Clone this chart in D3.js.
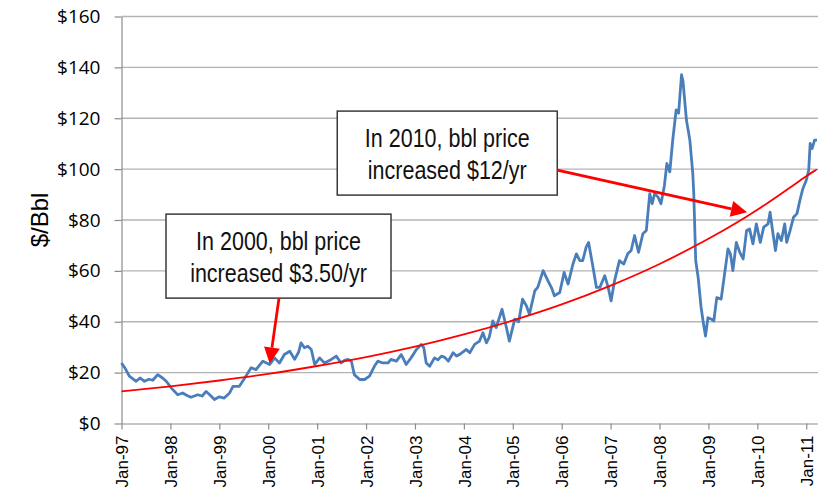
<!DOCTYPE html>
<html lang="en">
<head>
<meta charset="UTF-8">
<title>Crude oil price vs exponential trend</title>
<script src="https://cdn.jsdelivr.net/npm/d3@7"></script>
<style>
  body { margin: 0; background: #fff; }
  .axis text { font-family: "Liberation Sans", Arial, sans-serif; fill: #000; }
  .yaxis text { font-family: "Open Sans", "Liberation Sans", sans-serif; fill: #000; }
  .note text { font-family: "Liberation Sans Narrow", "Liberation Sans", Arial, sans-serif; font-size: 25px; fill: #111; }
</style>
</head>
<body>
<div id="chart"></div>
<script>
// weekly-ish price readings (decimal year, $/bbl)
const years = [
  1997.00, 1997.08, 1997.16, 1997.30, 1997.38, 1997.47, 1997.56, 1997.64, 1997.74, 1997.84, 1997.92,
  1998.02, 1998.15, 1998.25, 1998.34, 1998.42, 1998.56, 1998.65, 1998.73, 1998.82, 1998.90,
  1999.00, 1999.10, 1999.21, 1999.28, 1999.41, 1999.52, 1999.65, 1999.75, 1999.89,
  2000.03, 2000.13, 2000.23, 2000.33, 2000.44, 2000.54, 2000.62, 2000.67, 2000.74, 2000.81, 2000.88, 2000.95,
  2001.05, 2001.15, 2001.22, 2001.29, 2001.39, 2001.49, 2001.56, 2001.63, 2001.70, 2001.76, 2001.87, 2001.97,
  2002.07, 2002.17, 2002.24, 2002.34, 2002.45, 2002.51, 2002.62, 2002.72, 2002.82, 2002.92,
  2003.03, 2003.13, 2003.18, 2003.23, 2003.30, 2003.40, 2003.47, 2003.54, 2003.61, 2003.68, 2003.78, 2003.85, 2003.91,
  2004.05, 2004.12, 2004.22, 2004.32, 2004.39, 2004.46, 2004.52, 2004.59, 2004.66, 2004.78, 2004.87, 2004.93,
  2005.04, 2005.12, 2005.20, 2005.28, 2005.34, 2005.45, 2005.51, 2005.62, 2005.72, 2005.80, 2005.85, 2005.96,
  2006.05, 2006.13, 2006.23, 2006.30, 2006.37, 2006.43, 2006.50, 2006.55, 2006.64, 2006.71, 2006.78, 2006.88, 2006.95,
  2007.01, 2007.08, 2007.18, 2007.27, 2007.35, 2007.42, 2007.49, 2007.57, 2007.66, 2007.73, 2007.80, 2007.85, 2007.90, 2007.97,
  2008.03, 2008.10, 2008.15, 2008.21, 2008.27, 2008.34, 2008.39, 2008.45, 2008.48, 2008.55, 2008.62, 2008.68, 2008.70,
  2008.74, 2008.79, 2008.85, 2008.90, 2008.94, 2008.99,
  2009.06, 2009.11, 2009.17, 2009.26, 2009.33, 2009.40, 2009.45, 2009.50, 2009.57, 2009.64, 2009.71, 2009.78, 2009.84, 2009.91, 2009.98,
  2010.06, 2010.13, 2010.22, 2010.26, 2010.32, 2010.37, 2010.42, 2010.49, 2010.56, 2010.60, 2010.67, 2010.74, 2010.81, 2010.87, 2010.93,
  2011.00, 2011.05, 2011.08, 2011.12, 2011.17, 2011.22
];
const prices = [
  23.8, 21.5, 18.6, 16.6, 17.9, 16.6, 17.4, 17.0, 19.2, 17.9, 16.5,
  13.9, 11.3, 12.0, 11.0, 10.3, 11.3, 10.8, 12.6, 11.0, 9.4,
  10.5, 10.0, 12.0, 14.6, 14.6, 17.9, 21.9, 21.2, 24.5,
  23.2, 25.8, 23.8, 27.1, 28.4, 25.2, 28.0, 31.7, 29.8, 30.4, 29.1, 23.2,
  25.8, 23.8, 24.5, 25.2, 26.5, 23.8, 24.8, 25.2, 24.5, 19.2, 17.3, 17.3,
  18.6, 22.5, 24.5, 23.8, 23.8, 25.2, 24.5, 27.1, 23.2, 25.8,
  29.1, 31.1, 29.8, 23.8, 22.5, 25.8, 25.0, 26.5, 26.0, 24.5, 27.8, 26.5, 27.1,
  29.1, 27.8, 31.1, 32.4, 35.7, 31.7, 34.0, 40.3, 37.7, 44.9, 37.7, 32.4,
  41.0, 40.0, 48.9, 46.2, 42.9, 52.2, 53.5, 60.1, 56.1, 53.0, 50.2, 51.5,
  59.4, 54.8, 62.7, 66.7, 64.0, 64.0, 69.3, 71.2, 61.4, 53.5, 53.5, 58.1, 53.5,
  48.2, 56.1, 64.0, 62.7, 66.7, 68.0, 73.9, 67.3, 74.6, 75.9, 90.4, 86.4, 90.4, 89.0,
  86.4, 93.6, 102.2, 98.9, 111.4, 123.3, 122.0, 137.1, 134.5, 119.3, 111.4, 98.3, 90.4,
  64.0, 57.4, 45.6, 39.0, 34.4, 41.6,
  41.0, 40.3, 49.5, 48.9, 58.8, 68.6, 66.7, 60.1, 71.2, 67.3, 64.7, 75.9, 76.5, 70.6, 78.5,
  71.2, 77.2, 78.5, 83.1, 74.6, 68.0, 74.6, 71.9, 78.5, 71.2, 75.9, 81.1, 82.5, 87.7, 92.3,
  95.6, 99.6, 110.1, 108.1, 111.4, 111.4
];

// exponential trend line, read at each January
const trendYears = [1997, 1998, 1999, 2000, 2001, 2002, 2003, 2004, 2005, 2006, 2007, 2008, 2009, 2010, 2011, 2011.22];
const trendPrices = [12.6, 14.6, 16.9, 19.5, 22.6, 26.1, 30.2, 35.0, 40.5, 46.8, 54.2, 62.7, 72.6, 84.0, 97.2, 99.6];

const yTicks = [0, 20, 40, 60, 80, 100, 120, 140, 160];
const xTicks = [1997, 1998, 1999, 2000, 2001, 2002, 2003, 2004, 2005, 2006, 2007, 2008, 2009, 2010, 2011];
const xTickLabels = ["Jan-97", "Jan-98", "Jan-99", "Jan-00", "Jan-01", "Jan-02", "Jan-03", "Jan-04",
  "Jan-05", "Jan-06", "Jan-07", "Jan-08", "Jan-09", "Jan-10", "Jan-11"];

const notes = [
  { lines: ["In 2000, bbl price", "increased $3.50/yr"], cx: 2000.21, cy: 65.8, w: 225, h: 84, fromRight: false, tipX: 2000.03, tipY: 23.6 },
  { lines: ["In 2010, bbl price", "increased $12/yr"], cx: 2003.66, cy: 106.3, w: 220, h: 84, fromRight: true, tipX: 2009.79, tipY: 83.0 }
];

const W = 818, H = 495;
const margin = {top: 16.5, right: 0, bottom: 71.5, left: 121.5};

const svg = d3.select("#chart").append("svg")
  .attr("width", W)
  .attr("height", H);

const x = d3.scaleLinear().domain([1997, 2011.24]).range([margin.left, W - margin.right]);
const y = d3.scaleLinear().domain([0, 160]).range([H - margin.bottom, margin.top]);

// gridlines
svg.append("g")
  .selectAll("line")
  .data(yTicks.filter(d => d > 0))
  .enter().append("line")
  .attr("x1", margin.left).attr("x2", W)
  .attr("y1", d => y(d)).attr("y2", d => y(d))
  .attr("stroke", "#b4b4b4")
  .attr("stroke-width", 1.3);

// y axis
const yAxis = svg.append("g")
  .attr("class", "yaxis")
  .attr("transform", `translate(${margin.left},0)`)
  .call(d3.axisLeft(y).tickValues(yTicks).tickFormat(d => "$" + d).tickSize(7).tickPadding(14).tickSizeOuter(0));
yAxis.selectAll("line, path").attr("stroke", "#8c8c8c").attr("stroke-width", 1.2);
yAxis.selectAll("text").style("font-size", "19px");

// x axis
const xAxis = svg.append("g")
  .attr("class", "axis")
  .attr("transform", `translate(0,${y(0)})`)
  .call(d3.axisBottom(x).tickValues(xTicks).tickFormat((d, i) => xTickLabels[i]).tickSize(6).tickSizeOuter(0));
xAxis.selectAll("line, path").attr("stroke", "#8c8c8c").attr("stroke-width", 1.2);
xAxis.selectAll("text")
  .style("font-size", "17px")
  .attr("transform", "rotate(-90)")
  .attr("text-anchor", "end")
  .attr("x", -12)
  .attr("y", 0)
  .attr("dy", "0.36em");

// y axis title
svg.append("text")
  .attr("transform", `translate(40,${(y(0) + y(160)) / 2}) rotate(-90)`)
  .attr("text-anchor", "middle")
  .attr("dy", "0.35em")
  .style("font-family", '"Liberation Sans", Arial, sans-serif')
  .style("font-size", "24px")
  .text("$/Bbl");

// price line
const priceData = years.map((t, i) => ({t: t, v: prices[i]}));
svg.append("path")
  .datum(priceData)
  .attr("fill", "none")
  .attr("stroke", "#4a7ebb")
  .attr("stroke-width", 2.8)
  .attr("stroke-linejoin", "round")
  .attr("d", d3.line().x(d => x(d.t)).y(d => y(d.v)));

// trend line
const trendData = trendYears.map((t, i) => ({t: t, v: trendPrices[i]}));
svg.append("path")
  .datum(trendData)
  .attr("fill", "none")
  .attr("stroke", "#ff0000")
  .attr("stroke-width", 1.8)
  .attr("d", d3.line().curve(d3.curveNatural).x(d => x(d.t)).y(d => y(d.v)));

// annotation boxes with arrows
function arrow(g, x1, y1, x2, y2) {
  const ang = Math.atan2(y2 - y1, x2 - x1);
  const len = 16, half = 8;
  const bx = x2 - len * Math.cos(ang), by = y2 - len * Math.sin(ang);
  g.append("line")
    .attr("x1", x1).attr("y1", y1).attr("x2", bx).attr("y2", by)
    .attr("stroke", "#ff0000").attr("stroke-width", 2.8);
  g.append("path")
    .attr("d", `M${x2},${y2}L${bx + half * Math.sin(ang)},${by - half * Math.cos(ang)}L${bx - half * Math.sin(ang)},${by + half * Math.cos(ang)}Z`)
    .attr("fill", "#ff0000");
}

notes.forEach(n => {
  const g = svg.append("g").attr("class", "note");
  const cx = x(n.cx), cy = y(n.cy);
  g.append("rect")
    .attr("x", cx - n.w / 2).attr("y", cy - n.h / 2)
    .attr("width", n.w).attr("height", n.h)
    .attr("fill", "#fff")
    .attr("stroke", "#3a3a3a")
    .attr("stroke-width", 1.5);
  // narrow look: squeeze the regular face horizontally
  g.selectAll("text")
    .data(n.lines)
    .enter().append("text")
    .attr("transform", (d, i) => `translate(${cx},${cy - 6 + i * 31.7}) scale(0.86,1)`)
    .attr("text-anchor", "middle")
    .text(d => d);
  if (n.fromRight) {
    arrow(g, cx + n.w / 2, cy + 17, x(n.tipX), y(n.tipY));
  } else {
    arrow(g, cx + 0.5, cy + n.h / 2, x(n.tipX), y(n.tipY));
  }
});
</script>
</body>
</html>
